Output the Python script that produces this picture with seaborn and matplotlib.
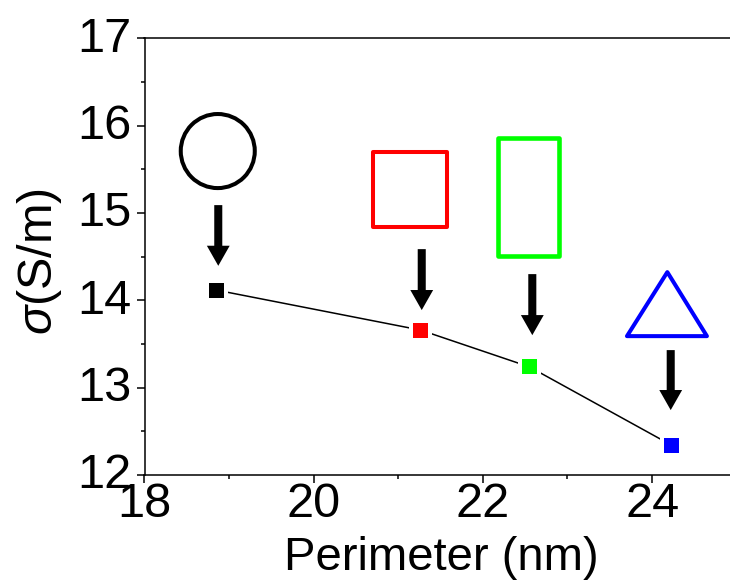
import matplotlib
matplotlib.use("Agg")
import matplotlib.pyplot as plt
import seaborn as sns
import pandas as pd
from matplotlib.patches import Ellipse, Rectangle, Polygon
from matplotlib.transforms import ScaledTranslation

# ---- data ----
shapes = ["circle", "square", "rectangle", "triangle"]
perimeter = [18.85, 21.265, 22.55, 24.23]
sigma = [14.117, 13.659, 13.238, 12.341]
colors = ["#000000", "#ff0000", "#00ff00", "#0000ff"]
x_ticks = [18, 20, 22, 24]
y_ticks = [12, 13, 14, 15, 16, 17]

df = pd.DataFrame({"shape": shapes, "perimeter": perimeter, "sigma": sigma})

sns.set_theme(style="ticks")
FONT = ["Liberation Sans", "DejaVu Sans"]
plt.rcParams["font.family"] = FONT
plt.rcParams["mathtext.fontset"] = "custom"
plt.rcParams["mathtext.it"] = "Liberation Sans:italic"
plt.rcParams["mathtext.rm"] = "Liberation Sans"
for k in ["text.color", "axes.labelcolor", "xtick.color", "ytick.color", "axes.edgecolor"]:
    plt.rcParams[k] = "black"

W, H = 730, 585
fig = plt.figure(figsize=(W / 100, H / 100), dpi=100)
ax = fig.add_axes([144.5 / W, 1 - 475 / H, (W - 144.5) / W, (475 - 38.3) / H])

sns.lineplot(data=df, x="perimeter", y="sigma", color="black", lw=1.1, ax=ax,
             zorder=2, sort=False)
# white halo to give the small gap between line and markers
sns.scatterplot(data=df, x="perimeter", y="sigma", marker="s", s=270,
                color="white", edgecolor="none", ax=ax, zorder=3, legend=False)
sns.scatterplot(data=df, x="perimeter", y="sigma", hue="shape", palette=colors,
                marker="s", s=115, edgecolor="none", ax=ax, zorder=4, legend=False)

ax.set_xlim(18, 18 + (W - 144.5) / 84.6)
ax.set_ylim(12, 17)
ax.set_xticks(x_ticks)
ax.set_yticks(y_ticks)
ax.set_xticks([19, 21, 23], minor=True)
ax.set_yticks([12.5, 13.5, 14.5, 15.5, 16.5], minor=True)
ax.tick_params(axis="both", which="major", direction="out", length=5.8, width=1.1,
               labelsize=35, colors="black")
ax.tick_params(axis="x", which="major", pad=-1)
ax.tick_params(axis="y", which="major", pad=3.5)
ax.tick_params(axis="both", which="minor", direction="out", length=3.2, width=1.1)
ax.tick_params(axis="x", which="both", top=False)
ax.tick_params(axis="y", which="both", right=False)

# reference y tick labels sit slightly above their ticks
shift = ScaledTranslation(0, 4 / 100, fig.dpi_scale_trans)
for lab in ax.get_yticklabels():
    lab.set_transform(lab.get_transform() + shift)

for side in ["left", "bottom", "top"]:
    ax.spines[side].set_linewidth(1.1)
    ax.spines[side].set_color("black")
ax.spines["right"].set_visible(False)

ax.set_xlabel("Perimeter (nm)", fontsize=34, va="baseline", ha="center")
ax.xaxis.set_label_coords(0.5064, -0.2175)
ax.set_ylabel(r"$\sigma$(S/m)", fontsize=35, va="center", ha="center")
ax.yaxis.set_label_coords(-0.180, 0.488)

# ---- shape icons and arrows (annotations) ----
lwp = 2.9
ax.add_patch(Ellipse((18.866, 15.709), 0.875, 0.848, fill=False, ec="black", lw=lwp,
                     zorder=5))
ax.add_patch(Rectangle((20.70, 14.84), 0.875, 0.86, fill=False, ec=colors[1], lw=lwp,
                       joinstyle="round", zorder=5))
ax.add_patch(Rectangle((22.184, 14.506), 0.718, 1.358, fill=False, ec=colors[2],
                       lw=3.3, joinstyle="round", zorder=5))
ax.add_patch(Polygon([(23.703, 13.59), (24.648, 13.59), (24.18, 14.323)], closed=True,
                     fill=False, ec=colors[3], lw=lwp, joinstyle="round", zorder=5))

arrows = [(18.872, 15.09, 14.395), (21.277, 14.586, 13.888),
          (22.584, 14.30, 13.601), (24.22, 13.43, 12.743)]
for ax_x, y0, y1 in arrows:
    ax.arrow(ax_x, y0, 0, y1 - y0, width=0.095, head_width=0.27, head_length=0.23,
             length_includes_head=True, color="black", lw=0, zorder=5)

fig.savefig("out.png", dpi=100)
